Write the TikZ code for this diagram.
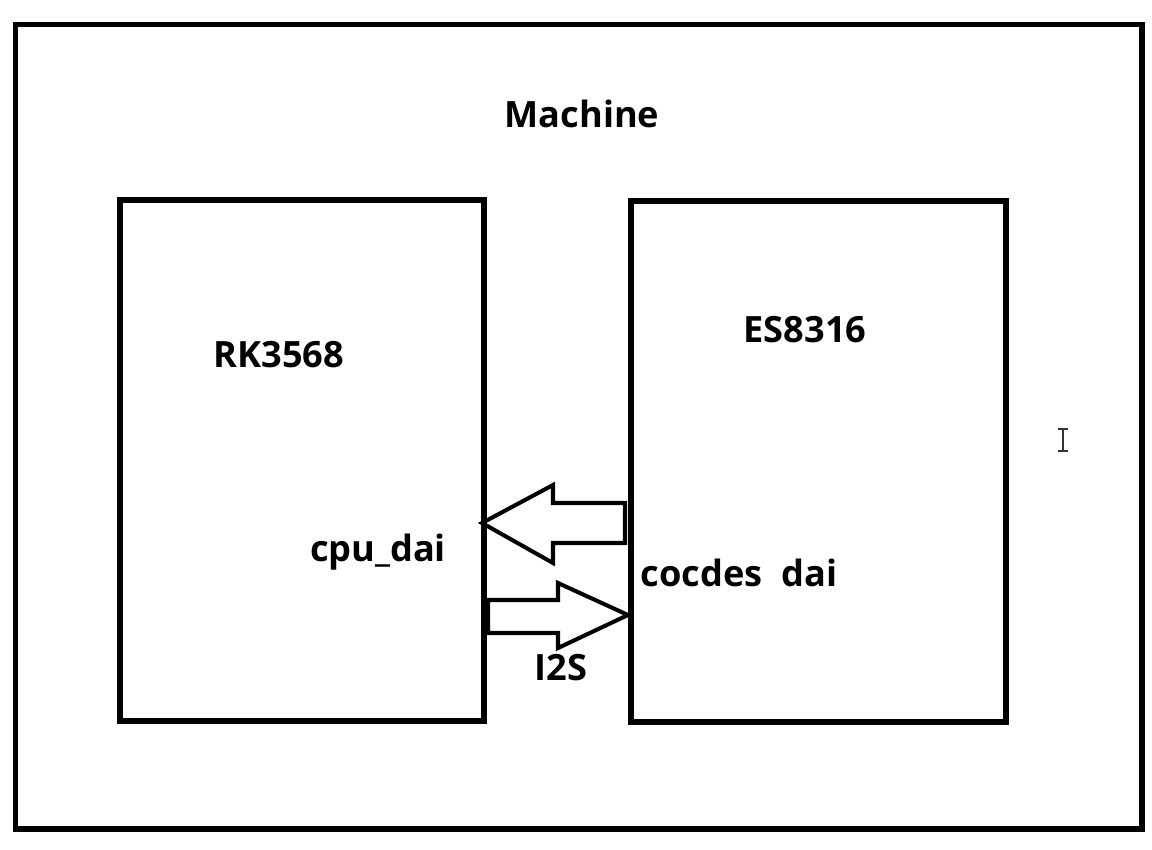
\documentclass[tikz,border=0pt]{standalone}
\usepackage{fontspec}
\setmainfont{Open Sans}
\usetikzlibrary{positioning}

\tikzset{
  blk/.style={draw, line width=3pt, inner sep=0pt},
  lbl/.style={font=\fontsize{20.6}{24}\selectfont\bfseries, inner sep=0pt},
  bigarrow/.style={draw, line width=2.3pt, line join=miter, fill=white},
}

\begin{document}
\begin{tikzpicture}[x=0.02cm, y=-0.02cm]
 \useasboundingbox (0,0) rectangle (1152,849);
 %\draw[step=50, gray, very thin] (0,0) grid (1152,849);

 % outer machine frame
 \draw[line width=3pt] (15.5,24.5) rectangle (1142,829);
 \node[lbl] (machine) at (582,114) {Machine};

 % the two chips
 \draw[blk] (120,200) rectangle (484,721);
 \draw[blk] (631,201) rectangle (1006,722);

 \node[lbl] (rk) at (279,355) {RK3568};
 \node[lbl] (es) at (805,330) {ES8316};
 \node[lbl] (cpudai) at (378,552) {cpu\_dai};
 \node[lbl] (codecdai) at (739,573) {cocdes\ \ dai};
 \node[lbl] (i2s) at (561,668) {I2S};

 % data arrows
 \draw[bigarrow] (482,523) -- (553,485) -- (553,503) -- (625,503)
   -- (625,543) -- (553,543) -- (553,563) -- cycle;
 \draw[bigarrow] (628,615) -- (558,583) -- (558,600) -- (488,600)
   -- (488,633) -- (558,633) -- (558,648) -- cycle;

 % text cursor
 \draw[line width=0.7pt, black!80] (1058,429) -- (1068,429)
   (1063,429) -- (1063,451) (1058,451) -- (1068,451);
\end{tikzpicture}
\end{document}
